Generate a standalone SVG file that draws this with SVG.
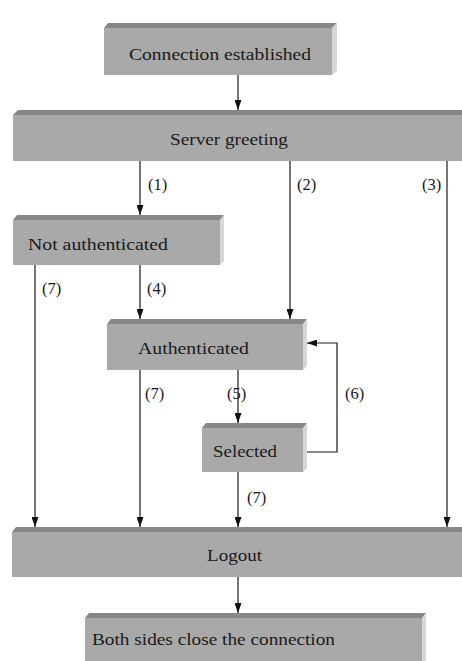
<svg xmlns="http://www.w3.org/2000/svg" width="462" height="661" viewBox="0 0 462 661">
  <style>
    .face { fill: #a9a9a9; }
    .top { fill: #878787; }
    .side { fill: #d6d6d6; }
    .name { font-family: "Liberation Serif", "DejaVu Serif", serif; font-size: 17px; fill: #1a1a1a; }
    .lbl { font-family: "Liberation Serif", "DejaVu Serif", serif; font-size: 16.5px; fill: #1a1a1a; }
    .wire { stroke: #1a1a1a; stroke-width: 1.2; fill: none; }
  </style>
  <defs>
    <marker id="tip" markerWidth="10" markerHeight="7" refX="10" refY="3.5" orient="auto" markerUnits="userSpaceOnUse" viewBox="0 0 10 7">
      <path d="M0,0 L10,3.5 L0,7 Z" fill="#111"/>
    </marker>
  </defs>

  <!-- Connection established -->
  <g id="connection-established">
    <polygon class="top" points="108,23 337,23 332,28 104,28"/>
    <polygon class="side" points="332,28 337,23 337,71 332,75"/>
    <rect class="face" x="104" y="28" width="228" height="47"/>
    <text class="name" x="129" y="60" textLength="182" lengthAdjust="spacingAndGlyphs">Connection established</text>
  </g>

  <!-- Server greeting -->
  <g id="server-greeting">
    <polygon class="top" points="18,110 462,110 462,115 13,115"/>
    <rect class="face" x="13" y="115" width="449" height="46"/>
    <text class="name" x="170" y="145" textLength="118" lengthAdjust="spacingAndGlyphs">Server greeting</text>
  </g>

  <!-- Not authenticated -->
  <g id="not-authenticated">
    <polygon class="top" points="17,215 224,215 220,220 13,220"/>
    <polygon class="side" points="220,220 224,215 224,261 220,265"/>
    <rect class="face" x="13" y="220" width="207" height="45"/>
    <text class="name" x="28" y="250" textLength="140" lengthAdjust="spacingAndGlyphs">Not authenticated</text>
  </g>

  <!-- Authenticated -->
  <g id="authenticated">
    <polygon class="top" points="111,319 307,319 303,324 107,324"/>
    <polygon class="side" points="303,324 307,319 307,366 303,370"/>
    <rect class="face" x="107" y="324" width="196" height="46"/>
    <text class="name" x="138" y="354" textLength="111" lengthAdjust="spacingAndGlyphs">Authenticated</text>
  </g>

  <!-- Selected -->
  <g id="selected">
    <polygon class="top" points="206,423 307,423 303,428 202,428"/>
    <polygon class="side" points="303,428 307,423 307,468 303,472"/>
    <rect class="face" x="202" y="428" width="101" height="44"/>
    <text class="name" x="213" y="457" textLength="64" lengthAdjust="spacingAndGlyphs">Selected</text>
  </g>

  <!-- Logout -->
  <g id="logout">
    <polygon class="top" points="16,527 462,527 462,532 12,532"/>
    <rect class="face" x="12" y="532" width="450" height="45"/>
    <text class="name" x="207" y="561" textLength="55" lengthAdjust="spacingAndGlyphs">Logout</text>
  </g>

  <!-- Both sides close the connection -->
  <g id="close-connection">
    <polygon class="top" points="89,613 426,613 422,618 85,618"/>
    <polygon class="side" points="422,618 426,613 426,661 422,661"/>
    <rect class="face" x="85" y="618" width="337" height="43"/>
    <text class="name" x="92" y="645" textLength="243" lengthAdjust="spacingAndGlyphs">Both sides close the connection</text>
  </g>

  <!-- Transitions -->
  <g id="connectors">
    <line class="wire" x1="238" y1="75" x2="238" y2="110" marker-end="url(#tip)"/>
    <line class="wire" x1="140" y1="161" x2="140" y2="215" marker-end="url(#tip)"/>
    <line class="wire" x1="290" y1="161" x2="290" y2="319" marker-end="url(#tip)"/>
    <line class="wire" x1="447" y1="161" x2="447" y2="527" marker-end="url(#tip)"/>
    <line class="wire" x1="35" y1="265" x2="35" y2="527" marker-end="url(#tip)"/>
    <line class="wire" x1="140" y1="265" x2="140" y2="319" marker-end="url(#tip)"/>
    <line class="wire" x1="140" y1="370" x2="140" y2="527" marker-end="url(#tip)"/>
    <line class="wire" x1="238" y1="370" x2="238" y2="423" marker-end="url(#tip)"/>
    <polyline class="wire" points="307,452 337,452 337,343 307,343" marker-end="url(#tip)"/>
    <line class="wire" x1="238" y1="472" x2="238" y2="527" marker-end="url(#tip)"/>
    <line class="wire" x1="238" y1="577" x2="238" y2="613" marker-end="url(#tip)"/>

    <text class="lbl" x="148" y="190">(1)</text>
    <text class="lbl" x="297" y="190">(2)</text>
    <text class="lbl" x="422" y="190">(3)</text>
    <text class="lbl" x="42" y="294">(7)</text>
    <text class="lbl" x="147" y="294">(4)</text>
    <text class="lbl" x="145" y="399">(7)</text>
    <text class="lbl" x="227" y="399">(5)</text>
    <text class="lbl" x="345" y="399">(6)</text>
    <text class="lbl" x="247" y="503">(7)</text>
  </g>
</svg>
